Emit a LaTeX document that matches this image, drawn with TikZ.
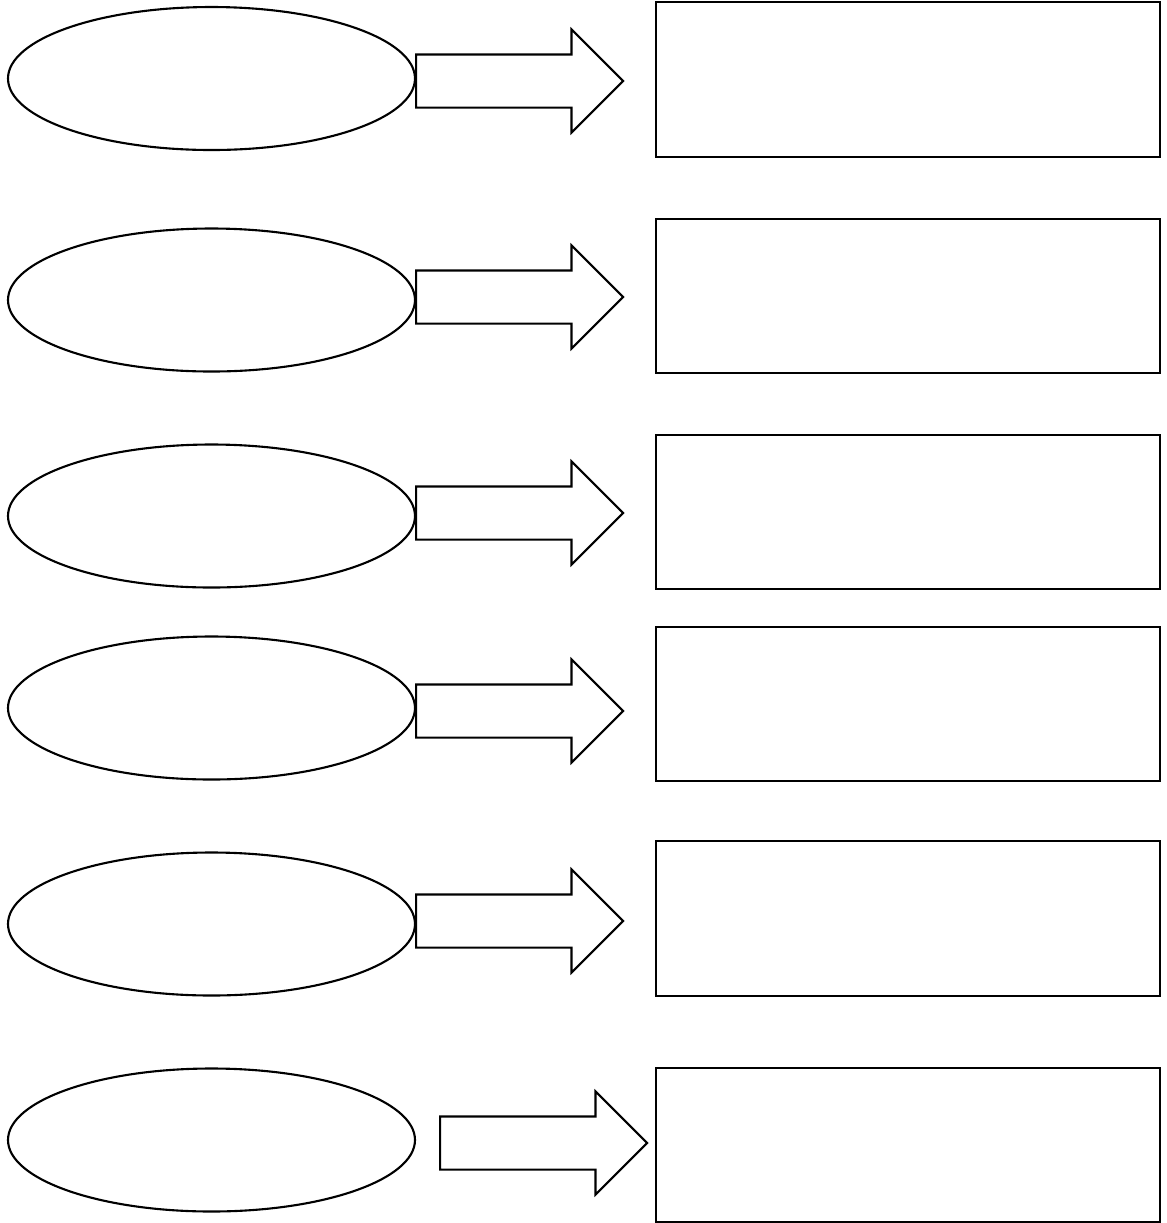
\documentclass[tikz,border=0pt]{standalone}
\usetikzlibrary{shapes.geometric, shapes.arrows, positioning}
\begin{document}
\begin{tikzpicture}[
  every node/.style={line width=0.6pt},
  oval/.style={ellipse, draw, inner sep=0pt,
               minimum width=4.07cm, minimum height=1.43cm},
  box/.style ={rectangle, draw, inner sep=0pt,
               minimum width=5.04cm, minimum height=1.545cm},
  blk/.style ={single arrow, draw, inner xsep=0pt, inner ysep=0.255cm,
               minimum height=2.07cm, single arrow head extend=0.25cm}
]
\useasboundingbox (0,0) rectangle (11.67,-12.23);
\foreach \i/\ey/\ry/\ay/\ax in {1/0.785/0.795/0.81/4.15, 2/3.00/2.96/2.97/4.15,
    3/5.16/5.12/5.13/4.15, 4/7.08/7.04/7.11/4.15, 5/9.24/9.185/9.21/4.15,
    6/11.40/11.45/11.43/4.39}{
  \node[oval] (e\i) at (2.115,-\ey) {};
  \node[blk, anchor=tail] (a\i) at (\ax,-\ay) {};
  \node[box] (r\i) at (9.08,-\ry) {};
}
\end{tikzpicture}
\end{document}
